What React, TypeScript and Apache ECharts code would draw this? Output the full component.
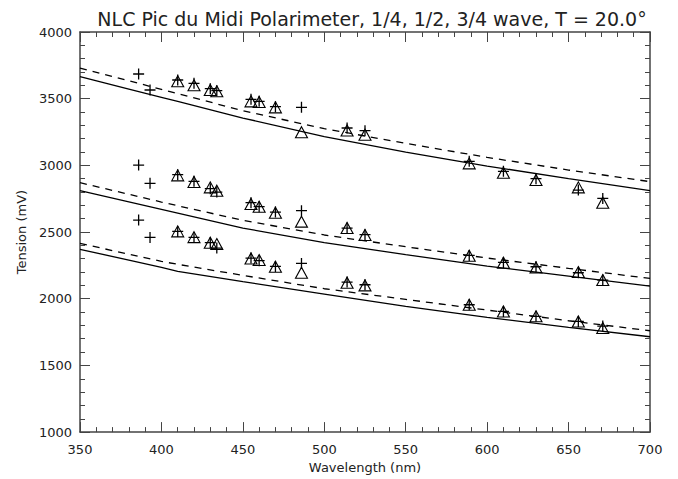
import React, { useEffect, useRef } from "react";
import * as echarts from "echarts";

const titleText = "NLC Pic du Midi Polarimeter, 1/4, 1/2, 3/4 wave, T = 20.0°";

const lineX = [350, 380, 400, 410, 450, 500, 550, 600, 650, 700];
const upperSolid = [3665, 3572, 3510, 3479, 3355, 3215, 3100, 2995, 2900, 2810];
const upperDashed = [3730, 3634, 3570, 3538, 3410, 3275, 3165, 3060, 2965, 2878];
const middleSolid = [2810, 2726, 2670, 2642, 2530, 2420, 2330, 2245, 2170, 2095];
const middleDashed = [2870, 2783, 2725, 2697, 2588, 2478, 2390, 2305, 2228, 2152];
const lowerSolid = [2370, 2290, 2235, 2205, 2128, 2035, 1942, 1860, 1785, 1715];
const lowerDashed = [2415, 2334, 2280, 2258, 2175, 2075, 1995, 1915, 1835, 1760];

const plusX = [386, 393, 410, 420, 430, 434, 455, 460, 470, 486, 514, 525, 589, 610, 630, 656, 671];
const upperPlus = [3685, 3565, 3640, 3615, 3575, 3560, 3495, 3480, 3440, 3435, 3280, 3260, 3030, 2955, 2900, 2815, 2752];
const middlePlus = [3002, 2865, 2930, 2880, 2825, 2800, 2720, 2690, 2650, 2660, 2530, 2480, 2325, 2272, 2240, 2195, 2140];
const lowerPlus = [2590, 2460, 2505, 2460, 2420, 2380, 2305, 2285, 2242, 2265, 2125, 2105, 1955, 1905, 1868, 1830, 1795];

const triX = [410, 420, 430, 434, 455, 460, 470, 486, 514, 525, 589, 610, 630, 656, 671];
const upperTri = [3630, 3600, 3565, 3555, 3480, 3475, 3435, 3248, 3262, 3230, 3015, 2945, 2890, 2835, 2720];
const middleTri = [2925, 2875, 2835, 2810, 2710, 2690, 2645, 2578, 2530, 2478, 2322, 2270, 2235, 2200, 2140];
const lowerTri = [2505, 2462, 2420, 2410, 2302, 2290, 2240, 2195, 2120, 2100, 1955, 1905, 1868, 1830, 1780];

const xTicks = { min: 350, max: 700, interval: 50 };
const yTicks = { min: 1000, max: 4000, interval: 500 };

const FONT = "DejaVu Sans";
const AXIS_COLOR = "#444";
const TEXT_COLOR = "#222";

function zip(xs: number[], ys: number[]) {
  return xs.map((x, i) => [x, ys[i]]);
}

export default function App() {
  const ref = useRef<HTMLDivElement>(null);
  useEffect(() => {
    if (!ref.current) return;
    const chart = echarts.init(ref.current, undefined, { renderer: "svg" });
    const axisCommon = {
      axisLine: { show: true, lineStyle: { color: AXIS_COLOR, width: 1.5 } },
      axisTick: { show: true, inside: true, length: 10, lineStyle: { color: AXIS_COLOR, width: 1 } },
      minorTick: { show: true, splitNumber: 5, length: 5, lineStyle: { color: AXIS_COLOR, width: 1 } },
      splitLine: { show: false },
      minorSplitLine: { show: false },
    };
    const fmt = (v: number) => String(v);
    const mkLine = (data: number[], dashed: boolean) => ({
      type: "line",
      data: zip(lineX, data),
      showSymbol: false,
      symbol: "none",
      smooth: false,
      lineStyle: { color: "#000", width: 1.3, type: dashed ? [7, 6] : "solid" },
      z: 2,
    });
    const mkPlus = (data: number[]) => ({
      type: "scatter",
      data: zip(plusX, data),
      symbol: "path://M5,0V10M0,5H10",
      symbolSize: 11,
      itemStyle: { color: "transparent", borderColor: "#000", borderWidth: 1.3, opacity: 1 },
      z: 4,
    });
    const mkTri = (data: number[]) => ({
      type: "scatter",
      data: zip(triX, data),
      symbol: "triangle",
      symbolSize: [12, 11],
      itemStyle: { color: "transparent", borderColor: "#000", borderWidth: 1.1, opacity: 1 },
      z: 3,
    });
    chart.setOption({
      animation: false,
      backgroundColor: "#fff",
      title: {
        text: titleText,
        left: 367,
        top: 4,
        textAlign: "center",
        textStyle: { fontFamily: FONT, fontSize: 19, fontWeight: "normal", color: TEXT_COLOR },
      },
      grid: { left: 80, right: 28, top: 32, bottom: 45, containLabel: false },
      xAxis: [
        {
          type: "value",
          position: "bottom",
          min: xTicks.min,
          max: xTicks.max,
          interval: xTicks.interval,
          name: "Wavelength (nm)",
          nameLocation: "middle",
          nameGap: 28,
          nameTextStyle: { fontFamily: FONT, fontSize: 13, color: TEXT_COLOR },
          axisLabel: { fontFamily: FONT, fontSize: 13, color: TEXT_COLOR, margin: 11, formatter: fmt },
          ...axisCommon,
        },
        {
          type: "value",
          position: "top",
          min: xTicks.min,
          max: xTicks.max,
          interval: xTicks.interval,
          axisLabel: { show: false },
          ...axisCommon,
        },
      ],
      yAxis: [
        {
          type: "value",
          position: "left",
          min: yTicks.min,
          max: yTicks.max,
          interval: yTicks.interval,
          name: "Tension (mV)",
          nameLocation: "middle",
          nameGap: 52,
          nameTextStyle: { fontFamily: FONT, fontSize: 13, color: TEXT_COLOR },
          axisLabel: { fontFamily: FONT, fontSize: 13, color: TEXT_COLOR, margin: 8, formatter: fmt },
          ...axisCommon,
        },
        {
          type: "value",
          position: "right",
          min: yTicks.min,
          max: yTicks.max,
          interval: yTicks.interval,
          axisLabel: { show: false },
          ...axisCommon,
        },
      ],
      series: [
        mkLine(upperSolid, false),
        mkLine(upperDashed, true),
        mkLine(middleSolid, false),
        mkLine(middleDashed, true),
        mkLine(lowerSolid, false),
        mkLine(lowerDashed, true),
        mkTri(upperTri),
        mkTri(middleTri),
        mkTri(lowerTri),
        mkPlus(upperPlus),
        mkPlus(middlePlus),
        mkPlus(lowerPlus),
      ],
    });
    return () => chart.dispose();
  }, []);
  return (
    <div
      ref={ref}
      style={{ position: "fixed", left: 0, top: 0, width: 678, height: 479 }}
    />
  );
}
